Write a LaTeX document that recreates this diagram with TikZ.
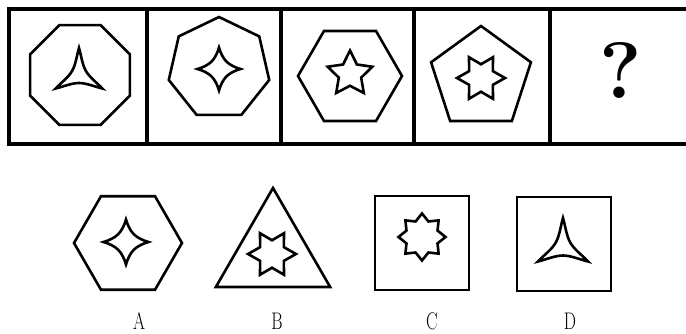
\documentclass[tikz,border=0pt]{standalone}
\usepackage{tikz}
\usetikzlibrary{shapes.geometric,calc}

% concave star: centre, points, tip radius, inner radius, tip opening
\newcommand{\cuspstar}[5]{%
  \draw[cusp] ($(#1)+(90:#3)$)
    \foreach \k [evaluate=\k as \ta using {90+(\k-1)*360/#2},
                 evaluate=\k as \tm using {90+(\k-0.5)*360/#2},
                 evaluate=\k as \tb using {90+\k*360/#2}] in {1,...,#2} {
      to[out={\ta+180-#5}, in={\tm-90}, looseness=0.8] ($(#1)+(\tm:#4)$)
      to[out={\tm+90}, in={\tb+180+#5}, looseness=0.8] ($(#1)+(\tb:#3)$)
    } -- cycle;}

\begin{document}
\begin{tikzpicture}[
  x=1pt, y=1pt,
  frame/.style={line width=3.2pt},
  poly/.style={draw, line width=2.6pt, regular polygon, inner sep=0pt, outer sep=0pt},
  spike/.style={draw, line width=2.6pt, star, inner sep=0pt, outer sep=0pt, line join=miter},
  cusp/.style={line width=2.6pt, line join=miter},
  letter/.style={font=\fontsize{24}{24}\selectfont, xscale=0.72, inner sep=0pt}
]
\useasboundingbox (0,0) rectangle (686,333);
\clip (0,0) rectangle (686,333);

% question row
\draw[frame] (9,189) rectangle (692,324);
\foreach \x in {147,281,414,550}
  \draw[frame] (\x,189) -- (\x,324);

\node[poly, regular polygon sides=8, minimum size=108pt] (oct) at (80,258) {};
\coordinate (tri1) at (79,258);
\cuspstar{tri1}{3}{27}{8}{17}

\node[poly, regular polygon sides=7, minimum size=103pt] (hept) at (219,264.5) {};
\coordinate (quad1) at (219,264);
\cuspstar{quad1}{4}{21.5}{10.5}{15}

\node[poly, regular polygon sides=6, minimum size=104pt] (hexa) at (350,257) {};
\node[spike, star points=5, star point ratio=2.0, minimum size=47pt] (five) at (350,259) {};

\node[poly, regular polygon sides=5, minimum size=105pt] (pent) at (481,254.5) {};
\node[spike, star points=6, star point ratio=1.75, minimum size=48pt, shape border rotate=30] (six1) at (481,255) {};

\node[font=\fontsize{80}{80}\bfseries] (ask) at (621,263) {?};

% answer row
\node[poly, regular polygon sides=6, minimum size=108pt] (hexA) at (128,90) {};
\coordinate (quadA) at (126,91);
\cuspstar{quadA}{4}{22.5}{11}{15}

\node[poly, regular polygon sides=3, minimum size=132pt] (triB) at (273,79) {};
\node[spike, star points=6, star point ratio=1.75, minimum size=48pt, shape border rotate=30] (sixB) at (272,79) {};

\node[poly, regular polygon sides=4, minimum size=133pt] (sqC) at (422,90) {};
\node[spike, star points=8, star point ratio=1.4, minimum size=47pt] (eightC) at (422,96) {};

\node[poly, regular polygon sides=4, minimum size=133pt] (sqD) at (564,89) {};
\coordinate (triD) at (563,86);
\cuspstar{triD}{3}{29}{8.5}{17}

\node[letter] (labA) at (139,12) {A};
\node[letter] (labB) at (277,12) {B};
\node[letter] (labC) at (432,12) {C};
\node[letter] (labD) at (570,12) {D};
\end{tikzpicture}
\end{document}
